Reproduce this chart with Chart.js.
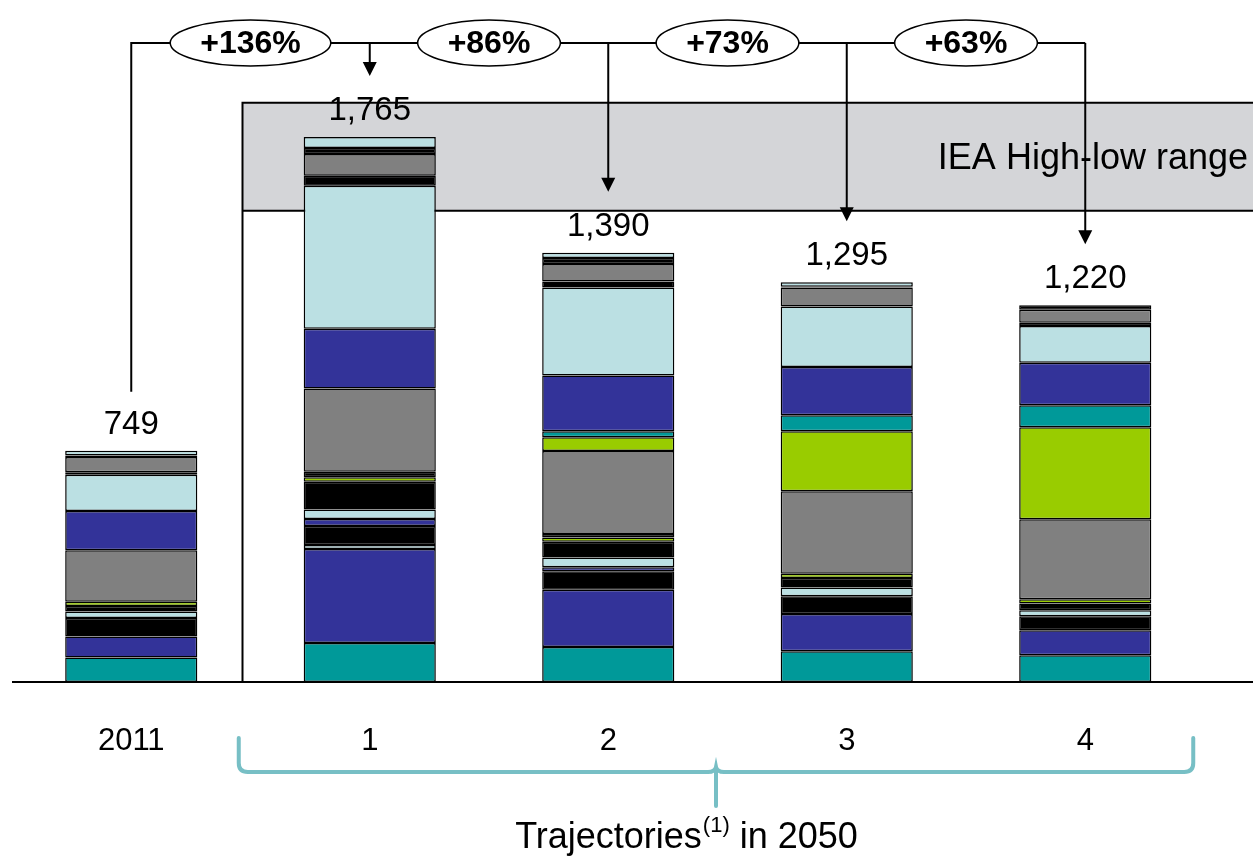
<!DOCTYPE html>
<html lang="en">
<head>
    <meta charset="UTF-8">
    <title>Trajectories in 2050</title>
    <script src="https://cdn.jsdelivr.net/npm/chart.js"></script>
    <style>
        html, body { margin: 0; padding: 0; background: #fff; }
    </style>
</head>
<body>
    <canvas id="myChart" width="1253" height="859"></canvas>

    <script>
        // columns
        const categories = ['2011', '1', '2', '3', '4'];

        // stack layer colours, bottom to top
        const layerColors = [
            '#009999', '#333399', '#BBE0E3', '#000000', '#333399', '#BBE0E3',
            '#000000', '#99CC00', '#000000', '#808080', '#99CC00', '#009999',
            '#333399', '#BBE0E3', '#000000', '#808080', '#000000', '#BBE0E3'
        ];

        // layer values per column, same order as layerColors
        const mix2011 = [79, 68, 0, 60, 0, 21, 18, 14, 0, 167, 0, 0, 127, 117, 8, 50, 5, 15];
        const traj1 = [126, 305, 13, 61, 23, 31, 90, 14, 18, 270, 0, 0, 193, 463, 33, 70, 20, 35];
        const traj2 = [113, 186, 0, 60, 13, 31, 51, 14, 11, 269, 45, 19, 181, 285, 19, 57, 19, 17];
        const traj3 = [100, 120, 0, 58, 0, 28, 31, 14, 0, 267, 194, 52, 156, 196, 0, 62, 2, 15];
        const traj4 = [87, 81, 0, 45, 0, 19, 22, 14, 0, 259, 298, 71, 138, 119, 11, 42, 14, 0];

        // IEA high / low band
        const ieaRange = [1526, 1876];

        const columns = [mix2011, traj1, traj2, traj3, traj4];
        const totals = columns.map(c => c.reduce((a, b) => a + b, 0));

        const datasets = layerColors.map((color, i) => ({
            label: 'Layer ' + (i + 1),
            data: columns.map(c => c[i]),
            backgroundColor: color,
            borderColor: '#000000',
            borderWidth: 1.5,
            borderSkipped: false,
            barPercentage: 0.554,
            categoryPercentage: 1
        }));

        const FONT = '"Liberation Sans", Arial, sans-serif';

        function drawText(ctx, str, x, y, font, align) {
            ctx.font = font;
            ctx.textAlign = align || 'center';
            ctx.textBaseline = 'middle';
            ctx.fillStyle = '#000';
            ctx.fillText(str, x, y);
        }

        function arrowDown(ctx, x, yFrom, yTip) {
            ctx.beginPath();
            ctx.moveTo(x, yFrom);
            ctx.lineTo(x, yTip - 12);
            ctx.stroke();
            ctx.beginPath();
            ctx.moveTo(x - 7, yTip - 14);
            ctx.lineTo(x + 7, yTip - 14);
            ctx.lineTo(x, yTip);
            ctx.closePath();
            ctx.fill();
        }

        const decor = {
            id: 'decor',
            beforeDatasetsDraw(chart) {
                const { ctx, scales: { x, y } } = chart;
                const left = (x.getPixelForValue(0) + x.getPixelForValue(1)) / 2 - 8;
                const right = chart.width;
                const yHi = y.getPixelForValue(ieaRange[1]);
                const yLo = y.getPixelForValue(ieaRange[0]);
                const y0 = y.getPixelForValue(0);

                ctx.save();
                ctx.fillStyle = '#D4D5D8';
                ctx.fillRect(left, yHi, right - left, yLo - yHi);
                ctx.strokeStyle = '#000';
                ctx.lineWidth = 2;
                ctx.beginPath();
                ctx.moveTo(right, yHi);
                ctx.lineTo(left, yHi);
                ctx.lineTo(left, y0);
                ctx.moveTo(left, yLo);
                ctx.lineTo(right, yLo);
                ctx.stroke();
                drawText(ctx, 'IEA High-low range', right - 5, (yHi + yLo) / 2 + 2, '36px ' + FONT, 'right');
                ctx.restore();
            },
            afterDatasetsDraw(chart) {
                const { ctx, scales: { x, y } } = chart;
                const y0 = y.getPixelForValue(0);
                const xc = categories.map((c, i) => x.getPixelForValue(i));
                const tops = totals.map(t => y.getPixelForValue(t));

                ctx.save();
                // baseline
                ctx.strokeStyle = '#000';
                ctx.lineWidth = 2;
                ctx.beginPath();
                ctx.moveTo(12, y0);
                ctx.lineTo(chart.width, y0);
                ctx.stroke();

                // totals above the bars and column labels below
                categories.forEach((c, i) => {
                    drawText(ctx, totals[i].toLocaleString('en-US'), xc[i], tops[i] - 26, '33px ' + FONT);
                    drawText(ctx, c, xc[i], 741, '31px ' + FONT);
                });

                // growth vs 2011 connectors
                const lineY = 43;
                ctx.fillStyle = '#000';
                ctx.lineWidth = 2;
                ctx.beginPath();
                ctx.moveTo(xc[0], tops[0] - 59);
                ctx.lineTo(xc[0], lineY);
                ctx.lineTo(xc[xc.length - 1], lineY);
                ctx.stroke();
                for (let i = 1; i < xc.length; i++) {
                    arrowDown(ctx, xc[i], lineY, tops[i] - 61);
                }
                for (let i = 1; i < xc.length; i++) {
                    const pct = '+' + Math.round((totals[i] / totals[0] - 1) * 100) + '%';
                    const cx = (xc[i - 1] + xc[i]) / 2;
                    ctx.font = 'bold 32px ' + FONT;
                    const rx = ctx.measureText(pct).width / 2 + 30;
                    ctx.beginPath();
                    ctx.ellipse(cx, lineY, rx, 23, 0, 0, Math.PI * 2);
                    ctx.fillStyle = '#fff';
                    ctx.fill();
                    ctx.lineWidth = 1.5;
                    ctx.stroke();
                    drawText(ctx, pct, cx, lineY + 1, 'bold 32px ' + FONT);
                }

                // brace under the 2050 trajectories
                const bx1 = xc[1] - 131, bx2 = xc[4] + 108, bm = (bx1 + bx2) / 2;
                const bTop = 738, bMid = 772, bTip = 806, r = 9;
                ctx.strokeStyle = '#77BFC5';
                ctx.lineWidth = 4;
                ctx.lineCap = 'round';
                ctx.beginPath();
                ctx.moveTo(bx1, bTop);
                ctx.lineTo(bx1, bMid - r);
                ctx.quadraticCurveTo(bx1, bMid, bx1 + r, bMid);
                ctx.lineTo(bm - 8, bMid);
                ctx.quadraticCurveTo(bm - 1, bMid, bm, bMid - 5);
                ctx.quadraticCurveTo(bm + 1, bMid, bm + 8, bMid);
                ctx.lineTo(bx2 - r, bMid);
                ctx.quadraticCurveTo(bx2, bMid, bx2, bMid - r);
                ctx.lineTo(bx2, bTop);
                ctx.moveTo(bm, bMid - 3);
                ctx.lineTo(bm, bTip);
                ctx.stroke();

                // caption with superscript
                const main1 = 'Trajectories', sup = '(1)', main2 = ' in 2050';
                ctx.font = '36px ' + FONT;
                const w1 = ctx.measureText(main1).width, w3 = ctx.measureText(main2).width;
                ctx.font = '22px ' + FONT;
                const w2 = ctx.measureText(sup).width;
                let tx = 686 - (w1 + w2 + w3) / 2;
                const ty = 838;
                drawText(ctx, main1, tx, ty, '36px ' + FONT, 'left');
                drawText(ctx, sup, tx + w1 + 1, ty - 12, '22px ' + FONT, 'left');
                drawText(ctx, main2, tx + w1 + w2 + 1, ty, '36px ' + FONT, 'left');
                ctx.restore();
            }
        };

        const ctx = document.getElementById('myChart').getContext('2d');
        const myChart = new Chart(ctx, {
            type: 'bar',
            data: { labels: categories, datasets: datasets },
            options: {
                responsive: false,
                animation: false,
                devicePixelRatio: 1,
                layout: { padding: { left: 12, right: 48.5, top: 0, bottom: 177 } },
                plugins: { legend: { display: false }, tooltip: { enabled: false } },
                scales: {
                    x: { display: false, stacked: true },
                    y: { display: false, stacked: true, min: 0, max: 2209 }
                }
            },
            plugins: [decor]
        });
    </script>
</body>
</html>
